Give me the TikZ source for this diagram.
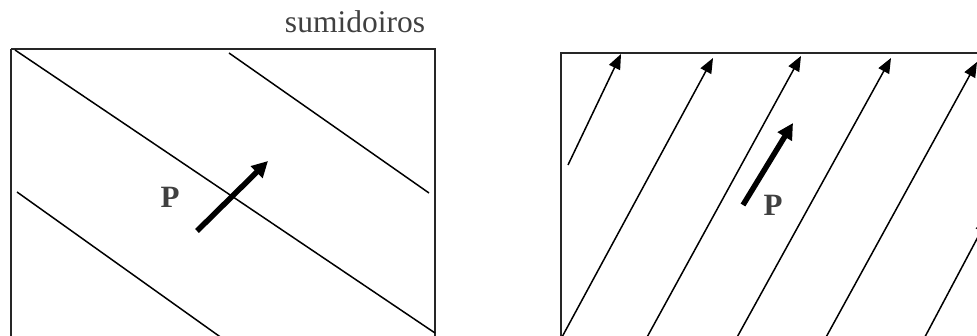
\documentclass[tikz,border=0pt]{standalone}
\usepackage{fontspec}
\setmainfont{Liberation Serif}
\usetikzlibrary{arrows.meta}
\definecolor{txtgray}{HTML}{404040}
\tikzset{
  frame/.style={line width=1.6pt, draw=black!85},
  thinline/.style={line width=1.5pt},
  flowarrow/.style={line width=1.5pt, -{Triangle[length=15pt,width=12pt]}},
  boldarrow/.style={line width=5.5pt, -{Triangle[length=16pt,width=16pt]}},
  lbl/.style={font=\fontsize{31.5}{31.5}\selectfont, text=txtgray, inner sep=0pt},
  blbl/.style={font=\fontsize{31}{31}\selectfont\bfseries, text=txtgray, inner sep=0pt}
}
\begin{document}
\begin{tikzpicture}[x=1pt,y=-1pt]
\clip (0,0) rectangle (977,336);
\fill[white] (0,0) rectangle (977,336);
% title
\node[lbl] (title) at (355,22) {sumidoiros};
% left panel
\draw[frame] (11,49) -- (435,49) -- (435,400);
\draw[frame] (11,49) -- (11,400);
\draw[thinline] (15,50) -- (435,333);
\draw[thinline] (229,53) -- (429,193);
\draw[thinline] (17,192) -- (240,351);
\coordinate (pa) at (197,231);
\coordinate (pb) at (268,161);
\draw[boldarrow] (pa) -- (pb);
\node[blbl] (P1) at (170,197) {P};
% right panel
\draw[frame] (561,400) -- (561,53) -- (1100,53);
\draw[flowarrow] (568,165) -- (621,54);
\draw[flowarrow] (555,350) -- (713,58);
\draw[flowarrow] (640,350) -- (801,56);
\draw[flowarrow] (730,350) -- (891,58);
\draw[flowarrow] (819,350) -- (977,62);
\draw[flowarrow] (918,350) -- (988,218);
\coordinate (qa) at (743,205);
\coordinate (qb) at (793,123);
\draw[boldarrow] (qa) -- (qb);
\node[blbl] (P2) at (773,205) {P};
\end{tikzpicture}
\end{document}
